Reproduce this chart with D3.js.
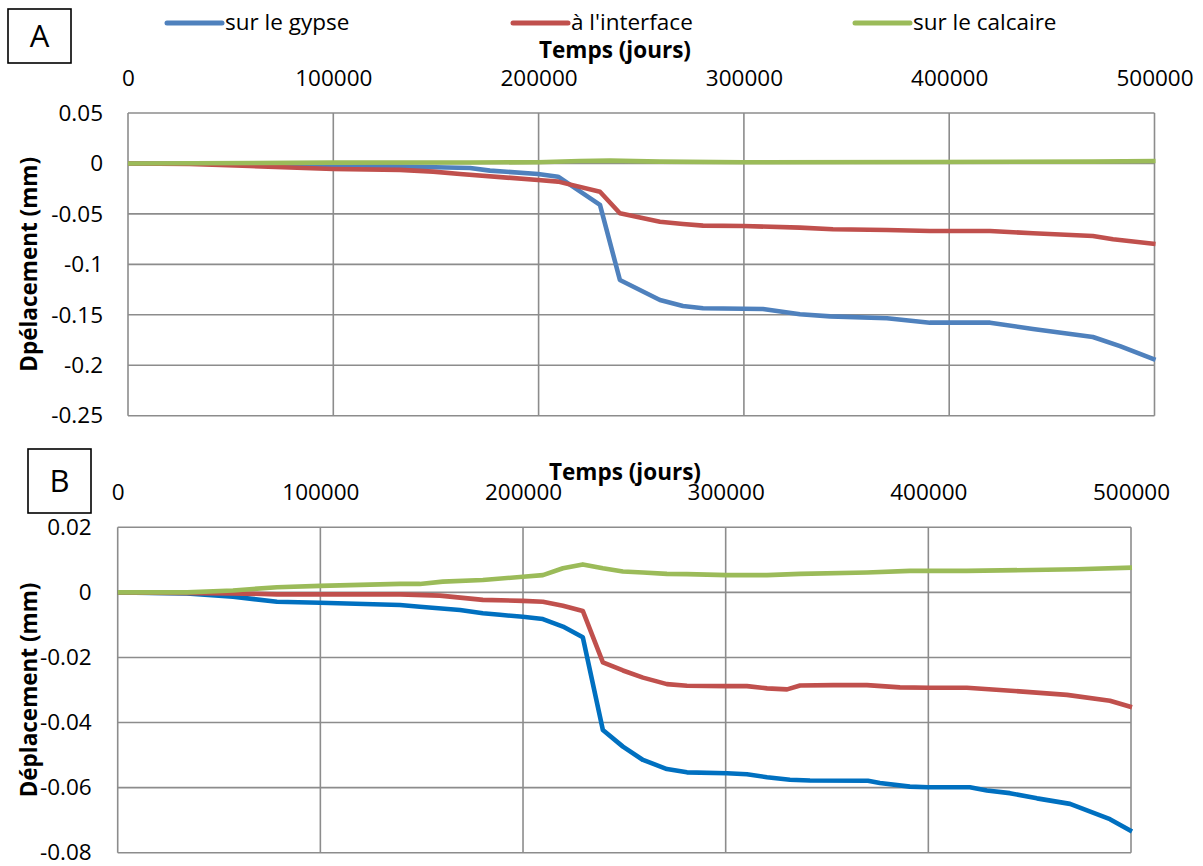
<!DOCTYPE html>
<html><head><meta charset="utf-8">
<script src="https://cdn.jsdelivr.net/npm/d3@7"></script>
<style>
body{margin:0;background:#fff}
svg{display:block}
text{font-family:"Open Sans",sans-serif;fill:#000}
</style>
</head><body><svg id="c" width="1203" height="866"></svg>
<script>
// ---------- data ----------
const timeTicks = [0, 100000, 200000, 300000, 400000, 500000];
const yTicksA = [0.05, 0, -0.05, -0.1, -0.15, -0.2, -0.25];
const yTicksB = [0.02, 0, -0.02, -0.04, -0.06, -0.08];
const seriesNames = ["sur le gypse", "à l'interface", "sur le calcaire"];
const colorsA = ["#4F81BD", "#C0504D", "#9BBB59"];
const colorsB = ["#0070C0", "#C0504D", "#9BBB59"];

// Panel A
const tA_gypse = [0, 50000, 100000, 132500, 166600, 176300, 199700, 209500, 229900, 239600, 259100, 270300, 280100, 309300, 327300, 342000, 369700, 390600, 419900, 440800, 470000, 483200, 500500];
const dA_gypse = [0, -0.0003, -0.0015, -0.003, -0.0045, -0.0071, -0.0104, -0.0131, -0.0411, -0.1155, -0.1353, -0.1412, -0.1435, -0.1442, -0.1495, -0.1516, -0.1534, -0.1578, -0.1578, -0.164, -0.172, -0.181, -0.1947];
const tA_interface = [0, 30000, 59400, 78900, 99900, 132500, 148600, 161700, 199700, 209500, 229900, 239600, 259100, 270300, 280100, 299600, 327300, 343400, 369700, 390600, 419900, 440800, 470000, 479800, 500500];
const dA_interface = [0, -0.0005, -0.0025, -0.004, -0.0055, -0.0064, -0.0081, -0.0104, -0.0164, -0.018, -0.028, -0.0494, -0.0577, -0.06, -0.0616, -0.062, -0.0636, -0.0652, -0.0659, -0.0669, -0.0669, -0.0692, -0.0719, -0.0751, -0.0798];
const tA_calcaire = [0, 100000, 166600, 199700, 220000, 234800, 259100, 299600, 390600, 470000, 500500];
const dA_calcaire = [0, 0.0008, 0.001, 0.0012, 0.0025, 0.0028, 0.0018, 0.0012, 0.0015, 0.0018, 0.0025];

// Panel B
const tB_gypse = [0, 34200, 56900, 78600, 99800, 139300, 149100, 168900, 180200, 188600, 199900, 209800, 219700, 229500, 239400, 249300, 259200, 271000, 280900, 300600, 310500, 320400, 331700, 341600, 370200, 376100, 390900, 399800, 420500, 428900, 440200, 453600, 469900, 489600, 500500];
const dB_gypse = [0, -0.0003, -0.0013, -0.0029, -0.0032, -0.0039, -0.0044, -0.0054, -0.0064, -0.0069, -0.0075, -0.0082, -0.0105, -0.0138, -0.0423, -0.0474, -0.0515, -0.0543, -0.0553, -0.0556, -0.0559, -0.0568, -0.0576, -0.0578, -0.0579, -0.0586, -0.0597, -0.0599, -0.0599, -0.0609, -0.0617, -0.0633, -0.065, -0.0697, -0.0735];
const tB_interface = [0, 56900, 78600, 139300, 159000, 180200, 199900, 209800, 219700, 229500, 239400, 249300, 259200, 271000, 280900, 300600, 310500, 320400, 330300, 336700, 353000, 369700, 386000, 400300, 419000, 435300, 468400, 489600, 500500];
const dB_interface = [0, -0.0003, -0.0006, -0.0006, -0.001, -0.0023, -0.0026, -0.0029, -0.0041, -0.0057, -0.0215, -0.024, -0.0262, -0.0282, -0.0287, -0.0288, -0.0288, -0.0295, -0.0298, -0.0286, -0.0285, -0.0285, -0.0292, -0.0293, -0.0293, -0.03, -0.0315, -0.0333, -0.0353];
const tB_calcaire = [0, 34200, 56900, 78600, 99800, 139300, 149100, 160400, 180200, 199900, 209800, 219700, 229500, 239400, 249300, 259200, 271000, 280900, 300600, 320400, 336700, 369700, 390900, 419000, 473300, 500500];
const dB_calcaire = [0, 0, 0.0006, 0.0016, 0.002, 0.0026, 0.0026, 0.0033, 0.0038, 0.0048, 0.0053, 0.0074, 0.0086, 0.0074, 0.0064, 0.0061, 0.0057, 0.0056, 0.0053, 0.0053, 0.0057, 0.0061, 0.0066, 0.0066, 0.0071, 0.0076];

// ---------- drawing ----------
const svg = d3.select("#c");
const FS = 22.5;
const gridColor = "#8c8c8c";

function drawPanel(cfg) {
  const x = d3.scaleLinear().domain([0, 500000]).range([cfg.left, cfg.right]);
  const y = d3.scaleLinear().domain([cfg.yTicks[cfg.yTicks.length - 1], cfg.yTicks[0]]).range([cfg.bottom, cfg.top]);
  const g = svg.append("g");

  // gridlines
  g.append("g").selectAll("line").data(cfg.yTicks).join("line")
    .attr("x1", cfg.left).attr("x2", cfg.right)
    .attr("y1", d => y(d)).attr("y2", d => y(d))
    .attr("stroke", gridColor).attr("stroke-width", 1.6);
  g.append("g").selectAll("line").data(timeTicks).join("line")
    .attr("x1", d => x(d)).attr("x2", d => x(d))
    .attr("y1", cfg.top).attr("y2", cfg.bottom)
    .attr("stroke", gridColor).attr("stroke-width", 1.6);

  // axes (labels only)
  const xa = g.append("g").attr("transform", `translate(0,${cfg.top})`)
    .call(d3.axisTop(x).tickValues(timeTicks).tickSize(0).tickPadding(cfg.xPad).tickFormat(d => String(d)));
  xa.select(".domain").remove();
  xa.selectAll("text").attr("font-family", "Open Sans").attr("font-size", FS).attr("fill", "#000");

  const ya = g.append("g").attr("transform", `translate(${cfg.left},0)`)
    .call(d3.axisLeft(y).tickValues(cfg.yTicks).tickSize(0).tickPadding(cfg.yPad).tickFormat(d => String(d)));
  ya.select(".domain").remove();
  ya.selectAll("text").attr("font-family", "Open Sans").attr("font-size", FS).attr("fill", "#000");

  // titles
  g.append("text").attr("x", cfg.xTitleX).attr("y", cfg.xTitleY)
    .attr("text-anchor", "middle").attr("font-size", FS).attr("font-weight", "bold")
    .text("Temps (jours)");
  g.append("text").attr("transform", `translate(${cfg.yTitleX},${(cfg.top + cfg.bottom) / 2}) rotate(-90)`)
    .attr("text-anchor", "middle").attr("font-size", FS).attr("font-weight", "bold")
    .text(cfg.yTitle);

  // series
  const line = d3.line().x(d => x(d[0])).y(d => y(d[1]));
  cfg.series.forEach((s, i) => {
    const pts = s.t.map((t, k) => [t, s.d[k]]);
    g.append("path").datum(pts).attr("d", line)
      .attr("fill", "none").attr("stroke", cfg.colors[i])
      .attr("stroke-width", 4.6).attr("stroke-linejoin", "round").attr("stroke-linecap", "butt");
  });

  // panel letter box
  g.append("rect").attr("x", cfg.box[0]).attr("y", cfg.box[1]).attr("width", cfg.box[2]).attr("height", cfg.box[3])
    .attr("fill", "#fff").attr("stroke", "#000").attr("stroke-width", 1.6);
  g.append("text").attr("x", cfg.box[0] + cfg.box[2] / 2).attr("y", cfg.box[1] + cfg.box[3] / 2 + 11)
    .attr("text-anchor", "middle").attr("font-family", "Liberation Serif, Times New Roman, serif")
    .attr("font-size", 31).text(cfg.letter);
}

drawPanel({
  left: 128, right: 1154.5, top: 113, bottom: 415.7,
  yTicks: yTicksA, xPad: 27, yPad: 25,
  xTitleX: 615, xTitleY: 58, yTitleX: 37, yTitle: "Dpélacement (mm)",
  colors: colorsA,
  series: [{t: tA_gypse, d: dA_gypse}, {t: tA_interface, d: dA_interface}, {t: tA_calcaire, d: dA_calcaire}],
  box: [8, 9, 63, 54], letter: "A"
});
drawPanel({
  left: 117.7, right: 1131, top: 527.3, bottom: 852.7,
  yTicks: yTicksB, xPad: 27, yPad: 26,
  xTitleX: 625, xTitleY: 480, yTitleX: 37, yTitle: "Déplacement (mm)",
  colors: colorsB,
  series: [{t: tB_gypse, d: dB_gypse}, {t: tB_interface, d: dB_interface}, {t: tB_calcaire, d: dB_calcaire}],
  box: [28, 449, 63, 64], letter: "B"
});

// legend
const legendX = [167, 513, 855];
const lg = svg.append("g");
seriesNames.forEach((name, i) => {
  lg.append("line").attr("x1", legendX[i]).attr("x2", legendX[i] + 55).attr("y1", 23).attr("y2", 23)
    .attr("stroke", colorsA[i]).attr("stroke-width", 5).attr("stroke-linecap", "round");
  lg.append("text").attr("x", legendX[i] + 58).attr("y", 22).attr("dy", "0.35em")
    .attr("font-size", FS).text(name);
});
</script>
</body></html>
